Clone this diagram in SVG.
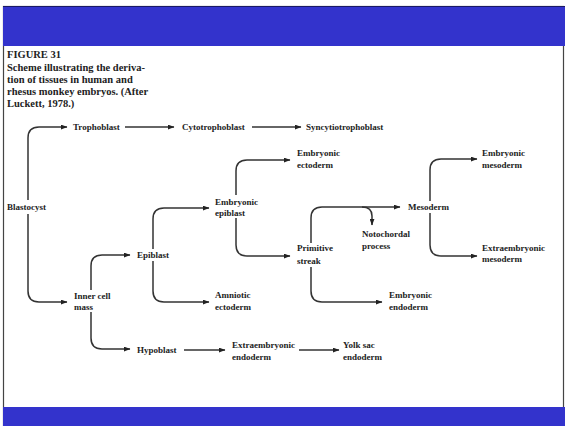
<svg xmlns="http://www.w3.org/2000/svg" width="565" height="426" viewBox="0 0 565 426">
<defs>
<marker id="ah" viewBox="0 0 8 6" refX="7.5" refY="3" markerWidth="7" markerHeight="5" orient="auto" markerUnits="userSpaceOnUse"><path d="M0,0 L8,3 L0,6z" fill="#222"/></marker>
</defs>
<style>
.t{font-family:"Liberation Serif","Times New Roman",serif;font-weight:bold;font-size:9px;fill:#222}
.h{font-family:"Liberation Serif","Times New Roman",serif;font-weight:bold;font-size:10.5px;fill:#222}
.c{fill:none;stroke:#333;stroke-width:1.5;marker-end:url(#ah)}
</style>
<rect x="0" y="0" width="565" height="426" fill="#fff"/>
<rect x="3.5" y="6.5" width="560" height="420" fill="#fff" stroke="#444" stroke-width="1.2"/>
<rect x="3" y="6" width="562" height="40" fill="#3333cc"/>
<line x1="3" y1="6.5" x2="565" y2="6.5" stroke="#1a1a66" stroke-width="1.2"/>
<rect x="3" y="407" width="562" height="19" fill="#3333cc"/>

<g id="title">
<text class="h" x="7" y="57.5" font-size="8">FIGURE 31</text>
<text class="h" x="7" y="70.5">Scheme illustrating the deriva-</text>
<text class="h" x="7" y="82.5">tion of tissues in human and</text>
<text class="h" x="7" y="94.5">rhesus monkey embryos. (After</text>
<text class="h" x="7" y="106.5">Luckett, 1978.)</text>
</g>

<g id="connectors">
<path class="c" d="M28,200 V138 Q28,127 39,127 H67"/>
<path class="c" d="M28,214 V291 Q28,302 39,302 H67"/>
<path class="c" d="M125,127 H174"/>
<path class="c" d="M252,127 H301"/>
<path class="c" d="M91,290 V266 Q91,255 102,255 H130"/>
<path class="c" d="M91,312 V338 Q91,349 102,349 H130"/>
<path class="c" d="M153,249 V219 Q153,208 164,208 H209"/>
<path class="c" d="M153,261 V291 Q153,302 164,302 H209"/>
<path class="c" d="M236,195 V171 Q236,160 247,160 H290"/>
<path class="c" d="M236,218 V245 Q236,256 247,256 H290"/>
<path class="c" d="M311,243 V218 Q311,207 322,207 H400"/>
<path class="c" d="M362,207 Q372,207 372,216 V225"/>
<path class="c" d="M311,267 V291 Q311,302 322,302 H382"/>
<path class="c" d="M430,201 V170 Q430,159 441,159 H477"/>
<path class="c" d="M430,213 V245 Q430,256 441,256 H477"/>
<path class="c" d="M184,350 H225"/>
<path class="c" d="M299,350 H339"/>
</g>

<g id="blastocyst"><text class="t" x="7" y="210">Blastocyst</text></g>
<g id="trophoblast"><text class="t" x="73" y="130">Trophoblast</text></g>
<g id="cytotrophoblast"><text class="t" x="182" y="130">Cytotrophoblast</text></g>
<g id="syncytiotrophoblast"><text class="t" x="306" y="130">Syncytiotrophoblast</text></g>
<g id="inner-cell-mass"><text class="t" x="74" y="299">Inner cell</text><text class="t" x="74" y="310">mass</text></g>
<g id="epiblast"><text class="t" x="137" y="258">Epiblast</text></g>
<g id="hypoblast"><text class="t" x="137" y="353">Hypoblast</text></g>
<g id="embryonic-epiblast"><text class="t" x="215" y="205">Embryonic</text><text class="t" x="215" y="216">epiblast</text></g>
<g id="amniotic-ectoderm"><text class="t" x="215" y="298">Amniotic</text><text class="t" x="215" y="310">ectoderm</text></g>
<g id="embryonic-ectoderm"><text class="t" x="297" y="156">Embryonic</text><text class="t" x="297" y="168">ectoderm</text></g>
<g id="primitive-streak"><text class="t" x="297" y="251">Primitive</text><text class="t" x="297" y="264">streak</text></g>
<g id="notochordal-process"><text class="t" x="362" y="237">Notochordal</text><text class="t" x="362" y="249">process</text></g>
<g id="embryonic-endoderm"><text class="t" x="389" y="298">Embryonic</text><text class="t" x="389" y="310">endoderm</text></g>
<g id="mesoderm"><text class="t" x="408" y="210">Mesoderm</text></g>
<g id="embryonic-mesoderm"><text class="t" x="482" y="156">Embryonic</text><text class="t" x="482" y="168">mesoderm</text></g>
<g id="extraembryonic-mesoderm"><text class="t" x="482" y="251">Extraembryonic</text><text class="t" x="482" y="262">mesoderm</text></g>
<g id="extraembryonic-endoderm"><text class="t" x="232" y="348">Extraembryonic</text><text class="t" x="232" y="360">endoderm</text></g>
<g id="yolk-sac-endoderm"><text class="t" x="343" y="348">Yolk sac</text><text class="t" x="343" y="360">endoderm</text></g>
</svg>
